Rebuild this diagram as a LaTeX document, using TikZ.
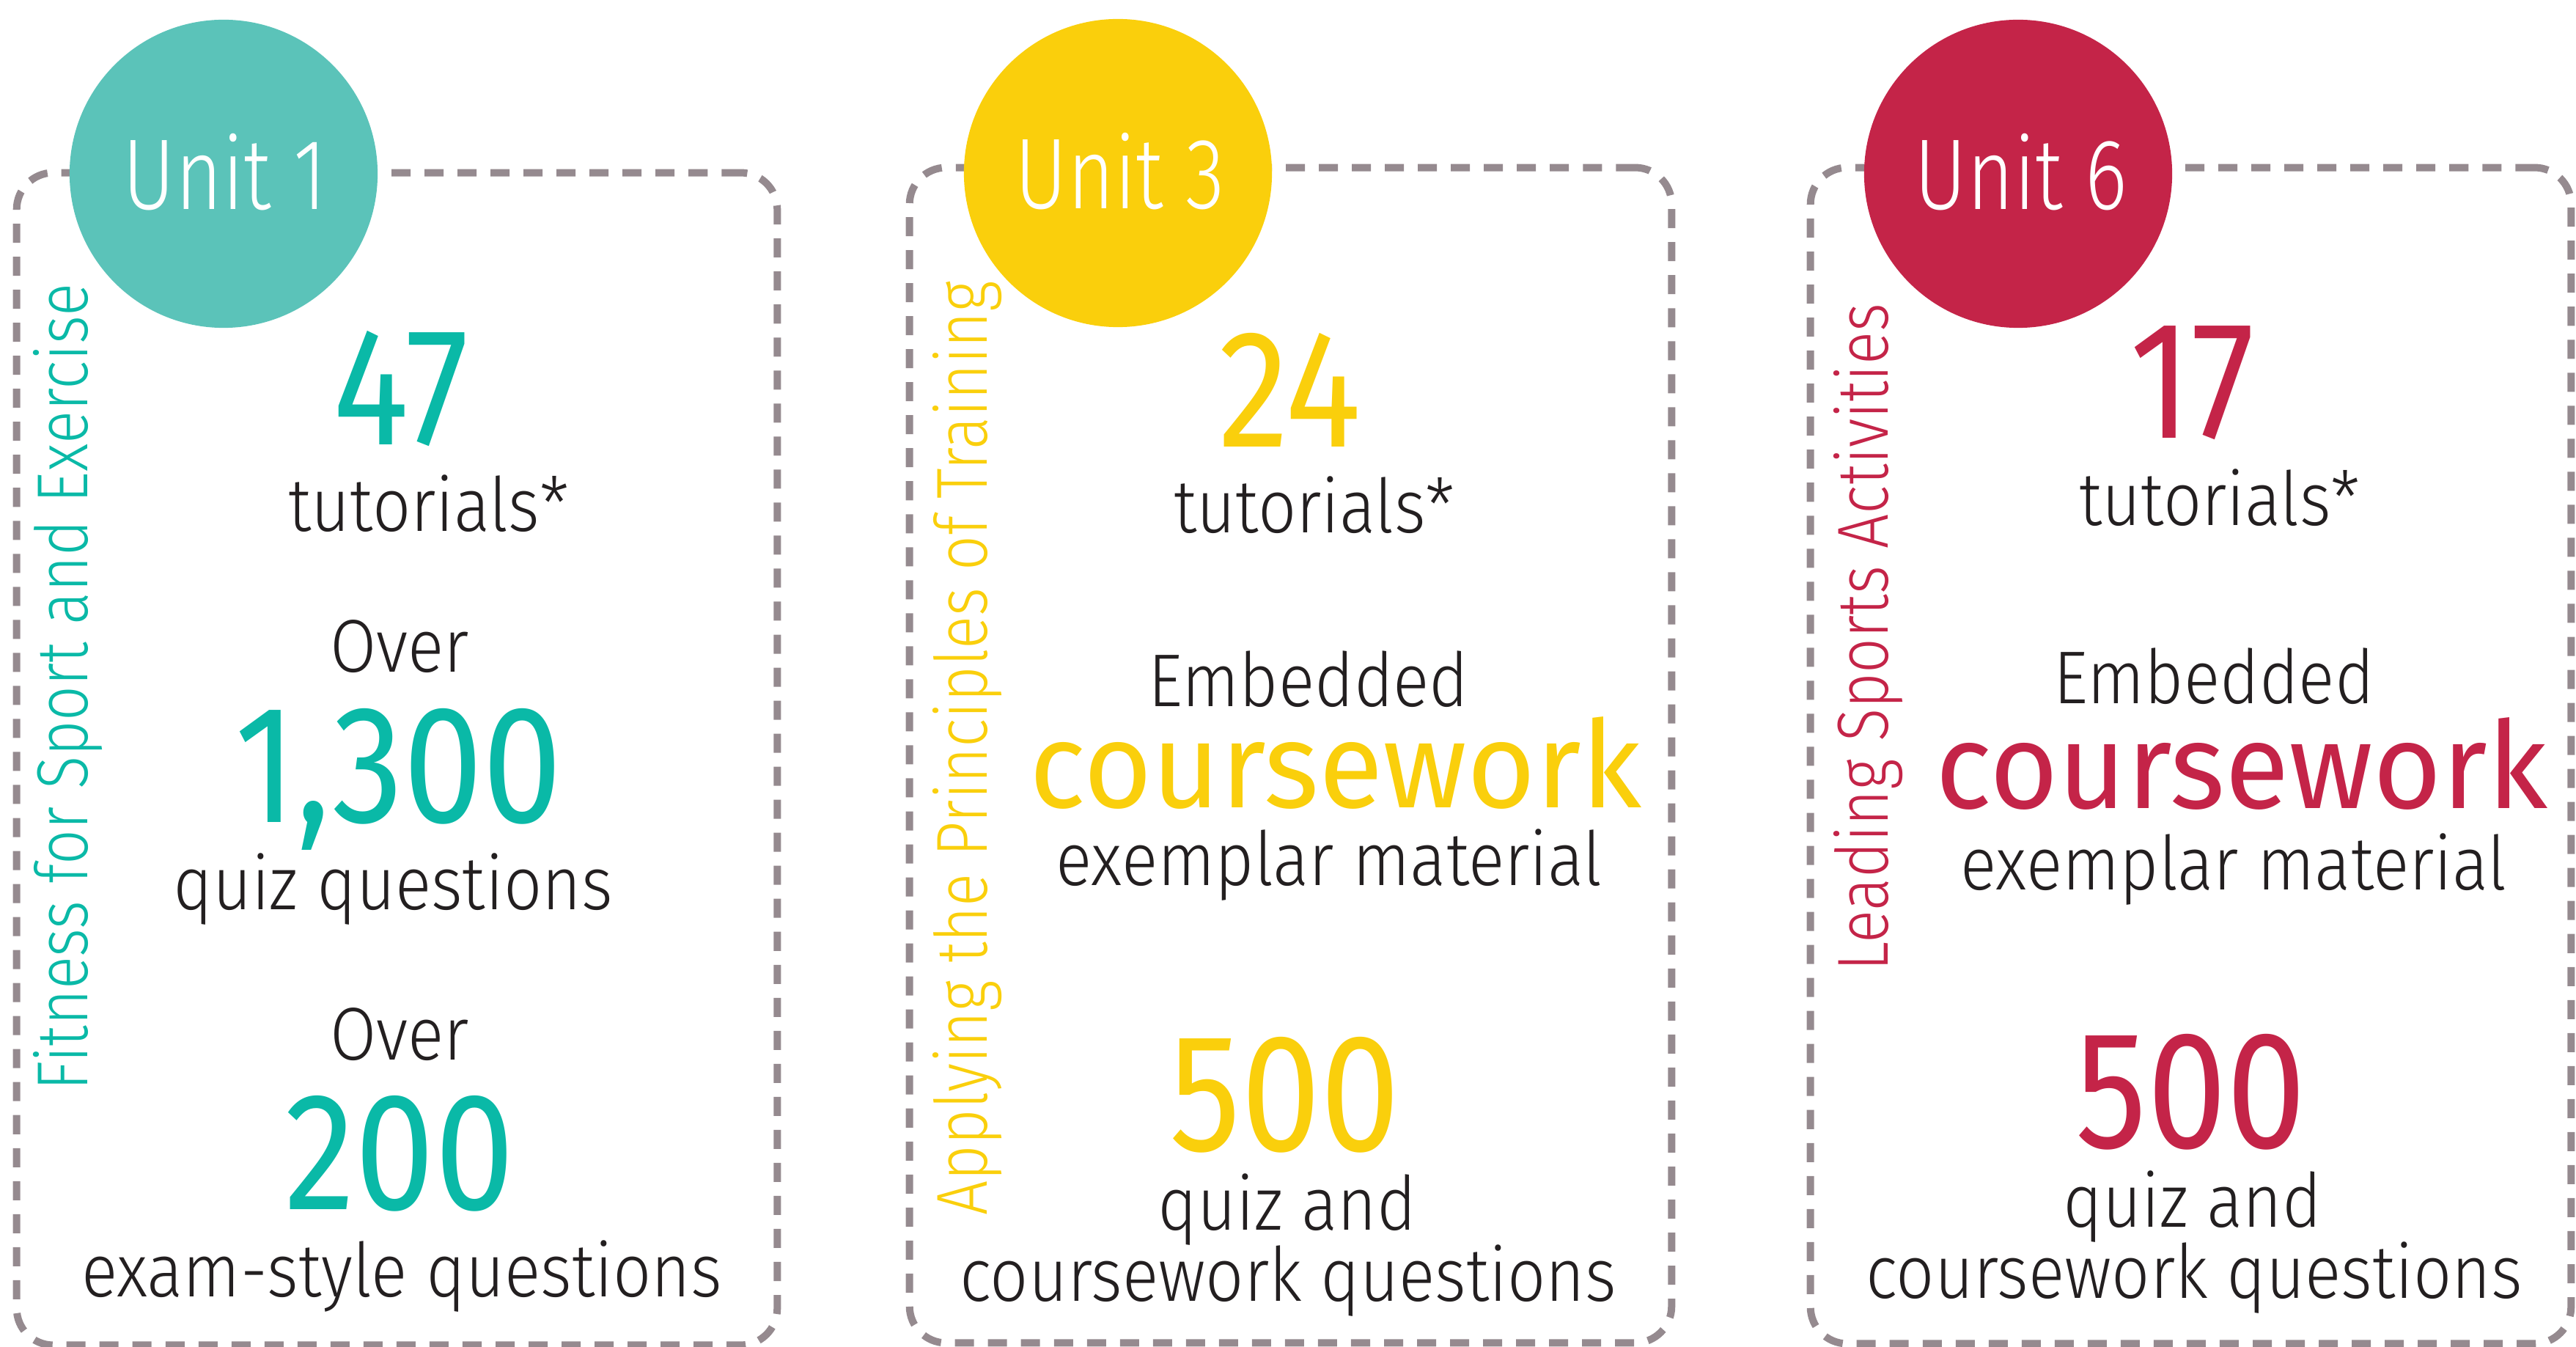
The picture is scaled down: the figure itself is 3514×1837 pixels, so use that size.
\documentclass[tikz,border=0pt]{standalone}
\usepackage{fontspec}
\setmainfont{Fira Sans Light}[FakeStretch=0.9]
\newfontfamily\numfont{Fira Sans}[FakeStretch=0.85]
\newfontfamily\wordfont{Fira Sans}[FakeStretch=0.97]
\newfontfamily\unitfont{Fira Sans Light}[FakeStretch=0.8]
\newfontfamily\sidefont{Fira Sans Light}[FakeStretch=0.85]
\usepackage{xcolor}
\usepackage{tikz}
\usetikzlibrary{positioning}
\definecolor{dashgray}{HTML}{958A8F}
\definecolor{inkblack}{HTML}{231F20}
\definecolor{tealdisc}{HTML}{5BC3B9}
\definecolor{tealtext}{HTML}{0AB9A7}
\definecolor{sunyellow}{HTML}{FACF0C}
\definecolor{berry}{HTML}{C42448}
\tikzset{
    unitbox/.style={rectangle, draw=dashgray, line width=0.1cm, dash pattern=on 0.26cm off 0.19cm, rounded corners=0.5cm, minimum width=10.37cm, minimum height=16cm, inner sep=0pt},
    unitdisc/.style={circle, minimum size=4.2cm, inner sep=0pt},
    unitlabel/.style={font=\unitfont\fontsize{39}{39}\selectfont, text=white, anchor=base, inner sep=0pt},
    bignum/.style={font=\numfont\fontsize{65}{65}\selectfont, anchor=base, inner sep=0pt},
    bodytext/.style={font=\fontsize{29}{29}\selectfont, text=inkblack, anchor=base, inner sep=0pt},
    bigword/.style={font=\wordfont\fontsize{47}{47}\selectfont, anchor=base, inner sep=0pt},
    topic/.style={font=\sidefont\fontsize{28}{28}\selectfont, rotate=90, anchor=base west, inner sep=0pt}
}

\begin{document}
\begin{tikzpicture}[x=0.01cm, y=-0.01cm]
    \useasboundingbox (0,0) rectangle (3514,1837);

    % dashed frames
    \node[unitbox, minimum height=15.98cm] (box1) at (541.5,1035) {};
    \node[unitbox, minimum width=10.39cm, minimum height=16.02cm] (box2) at (1760.5,1030) {};
    \node[unitbox, minimum height=16.03cm] (box3) at (2988.5,1030.5) {};

    % unit discs
    \node[unitdisc, fill=tealdisc] (disc1) at (305,237) {};
    \node[unitdisc, fill=sunyellow] (disc2) at (1525,236) {};
    \node[unitdisc, fill=berry] (disc3) at (2753,237) {};
    \node[unitlabel] (unit1) at (307,286) {Unit 1};
    \node[unitlabel] (unit3) at (1528,285) {Unit 3};
    \node[unitlabel] (unit6) at (2757,286) {Unit 6};

    % side titles
    \node[topic, text=tealtext] (topic1) at (120,1488) {Fitness for Sport and Exercise};
    \node[topic, text=sunyellow] (topic3) at (1346,1658) {Applying the Principles of Training};
    \node[topic, text=berry] (topic6) at (2575,1325) {Leading Sports Activities};

    % Unit 1
    \node[bignum, text=tealtext] (tut1) at (547,607) {47};
    \node[bodytext] (tutlbl1) at (585,725) {tutorials*};
    \node[bodytext] (over1) at (545,916) {Over};
    \node[bignum, text=tealtext] (quiz1) at (544,1121) {1,300};
    \node[bodytext] (quizlbl1) at (536,1240) {quiz questions};
    \node[bodytext] (over2) at (545,1445) {Over};
    \node[bignum, text=tealtext] (exam1) at (545,1649) {200};
    \node[bodytext] (examlbl1) at (548,1768) {exam-style questions};

    % Unit 3
    \node[bignum, text=sunyellow] (tut3) at (1760,610) {24};
    \node[bodytext] (tutlbl3) at (1793,727) {tutorials*};
    \node[bodytext] (emb3) at (1785,964) {Embedded};
    \node[bigword, text=sunyellow] (cw3) at (1822,1101) {coursework};
    \node[bodytext] (exm3) at (1813,1207) {exemplar material};
    \node[bignum, text=sunyellow] (quiz3) at (1753,1569) {500};
    \node[bodytext] (qa3) at (1756,1677) {quiz and};
    \node[bodytext] (cwq3) at (1757,1774) {coursework questions};

    % Unit 6
    \node[bignum, text=berry] (tut6) at (2991,598) {17};
    \node[bodytext] (tutlbl6) at (3028,717) {tutorials*};
    \node[bodytext] (emb6) at (3020,959) {Embedded};
    \node[bigword, text=berry] (cw6) at (3058,1102) {coursework};
    \node[bodytext] (exm6) at (3047,1213) {exemplar material};
    \node[bignum, text=berry] (quiz6) at (2989,1565) {500};
    \node[bodytext] (qa6) at (2991,1673) {quiz and};
    \node[bodytext] (cwq6) at (2993,1770) {coursework questions};
\end{tikzpicture}
\end{document}
